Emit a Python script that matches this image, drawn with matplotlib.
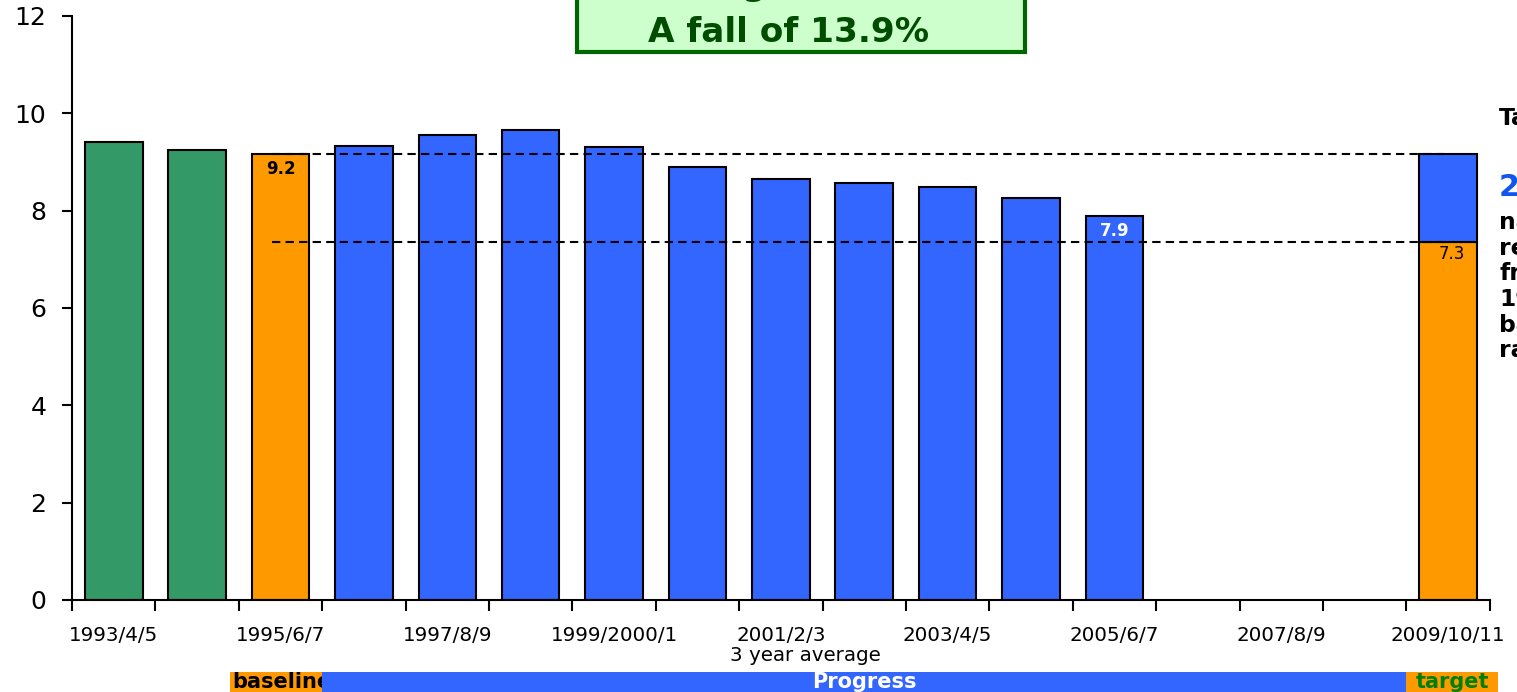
import matplotlib
matplotlib.use("Agg")
import matplotlib.pyplot as plt
from matplotlib.patches import Rectangle
from matplotlib.transforms import blended_transform_factory

# data
periods = ["1993/4/5", "1994/5/6", "1995/6/7", "1996/7/8", "1997/8/9", "1998/9/2000",
           "1999/2000/1", "2000/1/2", "2001/2/3", "2002/3/4", "2003/4/5", "2004/5/6",
           "2005/6/7", "2006/7/8", "2007/8/9", "2008/9/10", "2009/10/11"]
rates = [9.41, 9.24, 9.16, 9.33, 9.56, 9.66, 9.31, 8.90, 8.64, 8.56, 8.49, 8.26, 7.89]
bar_kind = ["pre", "pre", "baseline", "progress", "progress", "progress", "progress",
            "progress", "progress", "progress", "progress", "progress", "progress"]
baseline_rate = 9.16
target_rate = 7.35
baseline_label = "9.2"
latest_label = "7.9"
target_label = "7.3"

GREEN = "#339966"
ORANGE = "#FF9900"
BLUE = "#3366FF"
colors = {"pre": GREEN, "baseline": ORANGE, "progress": BLUE}

fig = plt.figure(figsize=(15.17, 6.92), dpi=100)
ax = fig.add_axes([0.0475, 0.133, 0.9345, 0.844])

x = list(range(len(periods)))
W = 0.69
ax.bar(x[:len(rates)], rates, width=W, color=[colors[k] for k in bar_kind],
       edgecolor="black", linewidth=1.5, zorder=2)

# target bar: orange target with blue gap up to baseline
tx = len(periods) - 1
ax.bar(tx, target_rate, width=W, color=ORANGE, edgecolor="black", linewidth=1.5, zorder=2)
ax.bar(tx, baseline_rate - target_rate, bottom=target_rate, width=W, color=BLUE,
       edgecolor="black", linewidth=1.5, zorder=2)

# dashed reference lines
for yv in [baseline_rate, target_rate]:
    ax.plot([1.9, 15.95], [yv, yv], color="black", linestyle=(0, (4, 2.5)),
            linewidth=1.5, zorder=3)

# bar labels
ax.text(2, baseline_rate - 0.12, baseline_label, ha="center", va="top",
        fontsize=12, fontweight="bold", color="black", zorder=4)
ax.text(12, rates[12] - 0.12, latest_label, ha="center", va="top",
        fontsize=12, fontweight="bold", color="white", zorder=4)
ax.text(tx + 0.05, target_rate - 0.05, target_label, ha="center", va="top",
        fontsize=12, color="black", zorder=4)

# axes styling
ax.set_xlim(-0.5, 16.5)
ax.set_ylim(0, 12)
ax.set_yticks(range(0, 13, 2))
ax.tick_params(axis="y", labelsize=18, length=7, width=1.5, direction="out", pad=11.5)
ax.set_xticks([i - 0.5 for i in range(len(periods) + 1)])
ax.set_xticklabels([])
ax.set_xticks(x[::2], minor=True)
ax.set_xticklabels(periods[::2], minor=True, fontsize=14.3)
ax.tick_params(axis="x", which="major", length=8, width=1.5, direction="out")
ax.tick_params(axis="x", which="minor", length=0, pad=19)
for s in ["top", "right"]:
    ax.spines[s].set_visible(False)
for s in ["left", "bottom"]:
    ax.spines[s].set_linewidth(1.5)

fig.text(0.531, 0.053, "3 year average", ha="center", va="center", fontsize=14.3)

# heading box (partly outside the picture)
fig.add_artist(Rectangle((577 / 1517, 1 - 52 / 692), (1025 - 577) / 1517, 0.2,
                         transform=fig.transFigure, facecolor="#CCFFCC",
                         edgecolor="#006600", linewidth=3, clip_on=False))
fig.text(838 / 1517, 1 + 5 / 692, "Progress to date", ha="center", va="baseline",
         fontsize=24.7, fontweight="bold", color="#004D00")
fig.text(789 / 1517, 1 - 42 / 692, "A fall of 13.9%", ha="center", va="baseline",
         fontsize=24.7, fontweight="bold", color="#004D00")

# side note (cut by the edge)
side_x = 1499 / 1517
fig.text(side_x, 1 - 118 / 692, "Target:", ha="left", va="center",
         fontsize=16.8, fontweight="bold", color="black")
fig.text(side_x, 1 - 188 / 692, "20%", ha="left", va="center",
         fontsize=21.7, fontweight="bold", color="#1155EE")
side_lines = ["narrowing", "reduction", "from", "1995-97", "baseline", "rate"]
for i, line in enumerate(side_lines):
    fig.text(side_x, 1 - (223 + 25.5 * i) / 692, line, ha="left", va="center",
             fontsize=16.8, fontweight="bold", color="black")

# bottom bands
trans = blended_transform_factory(ax.transData, fig.transFigure)
bands = [(1.4, 2.5, ORANGE, "baseline", "black", "left"),
         (2.5, 15.5, BLUE, "Progress", "white", "center"),
         (15.5, 16.6, ORANGE, "target", "#008000", "center")]
band_h = 20 / 692
for x0, x1, col, label, tcol, ha in bands:
    r = Rectangle((x0, 0), x1 - x0, band_h, transform=trans, facecolor=col,
                  edgecolor="none", clip_on=False)
    fig.add_artist(r)
    tx_pos = x0 + 0.02 if ha == "left" else (x0 + x1) / 2
    t = fig.text(tx_pos, band_h / 2, label, ha=ha, va="center", fontsize=15,
                 fontweight="bold", color=tcol, transform=trans)
    t.set_clip_path(r)

fig.savefig("out.png", dpi=100)
